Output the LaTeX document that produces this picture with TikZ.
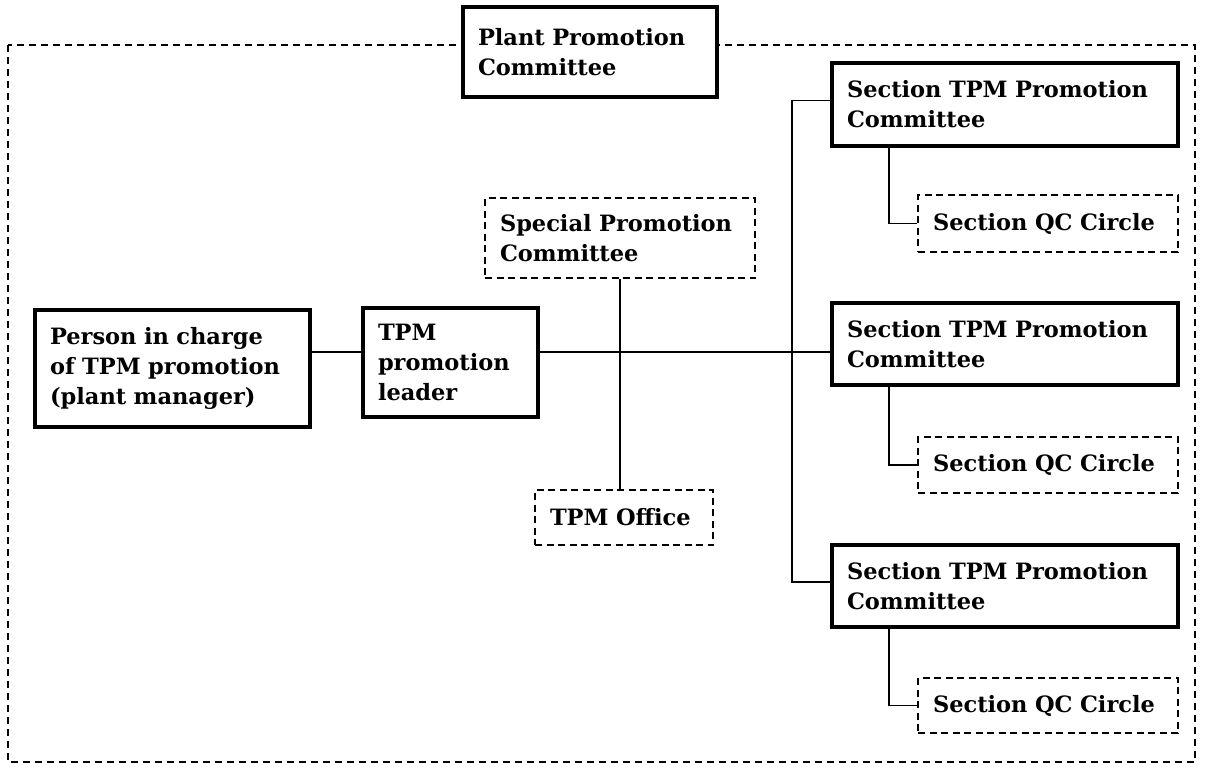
\documentclass[tikz,border=0pt]{standalone}
\usepackage{fontspec}
\setmainfont{DejaVu Serif}
\begin{document}
\begin{tikzpicture}[x=1pt,y=-1pt,
  every node/.style={font=\fontsize{22.5pt}{30pt}\selectfont\bfseries, align=left, inner xsep=15pt, inner ysep=0pt},
  solidbox/.style={draw, line width=3.2pt, fill=white},
  dashbox/.style={draw, line width=2.4pt, dash pattern=on 7pt off 4.5pt, fill=white},
  conn/.style={line width=1.9pt},
  frame/.style={line width=2.4pt, dash pattern=on 7pt off 5pt}]
\useasboundingbox (0,0) rectangle (1205,771);

% outer boundary of the plant organisation
\draw[frame] (8,45) rectangle (1195,762);

% reference coordinates for the connector lines
\coordinate (mainy) at (0,352);
\coordinate (bus) at (792,0);
\coordinate (stem) at (889,0);

% top committee
\node[solidbox, text width=224pt, minimum height=90pt] (plant) at (590,52) {Plant Promotion\\Committee};

% central chain
\node[solidbox, text width=245pt, minimum height=117pt] (person) at (172.5,368.5) {Person in charge\\of TPM promotion\\(plant manager)};
\node[solidbox, text width=145pt, minimum height=109pt] (leader) at (450.5,362.5) {TPM\\promotion\\leader};
\node[dashbox, text width=240pt, minimum height=80pt] (special) at (620,238) {Special Promotion\\Committee};
\node[dashbox, text width=148pt, minimum height=55pt] (office) at (624,517.5) {TPM Office};

% section committees and their circles
\node[solidbox, text width=316pt, minimum height=83pt] (sec1) at (1005,104.5) {Section TPM Promotion\\Committee};
\node[solidbox, text width=316pt, minimum height=82pt] (sec2) at (1005,344) {Section TPM Promotion\\Committee};
\node[solidbox, text width=316pt, minimum height=82pt] (sec3) at (1005,586) {Section TPM Promotion\\Committee};
\node[dashbox, text width=230pt, minimum height=57pt] (qc1) at (1048,223.5) {Section QC Circle};
\node[dashbox, text width=230pt, minimum height=56pt] (qc2) at (1048,465) {Section QC Circle};
\node[dashbox, text width=230pt, minimum height=55pt] (qc3) at (1048,705.5) {Section QC Circle};

% connectors
\draw[conn] (person.east |- mainy) -- (leader.west |- mainy);
\draw[conn] (leader.east |- mainy) -- (sec2.west |- mainy);
\draw[conn] (special.south) -- (special.south |- office.north);
\draw[conn] ([yshift=4pt]sec1.west) -- ([yshift=4pt]sec1.west -| bus) -- ([yshift=4pt]sec3.west -| bus) -- ([yshift=4pt]sec3.west);
\draw[conn] (sec1.south -| stem) |- (qc1.west);
\draw[conn] (sec2.south -| stem) |- (qc2.west);
\draw[conn] (sec3.south -| stem) |- (qc3.west);
\end{tikzpicture}
\end{document}
